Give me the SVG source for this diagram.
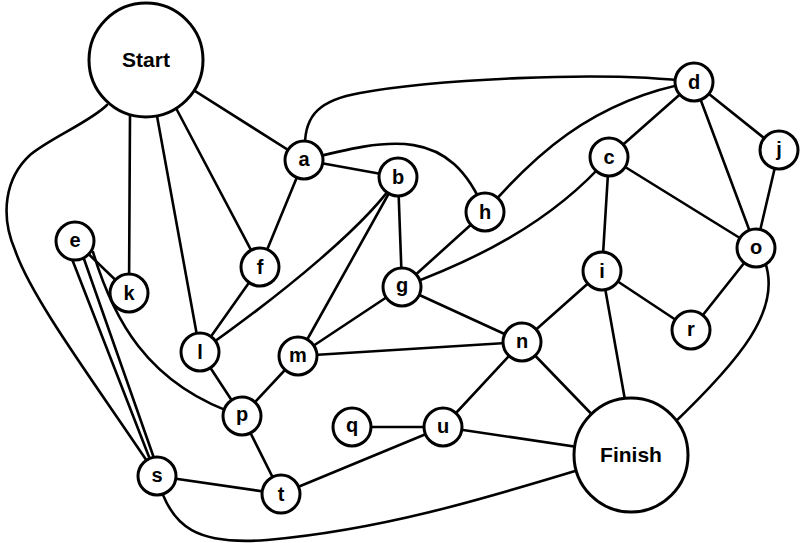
<svg xmlns="http://www.w3.org/2000/svg" width="803" height="543" viewBox="0 0 803 543">
<style>
.e{fill:none;stroke:#000;stroke-width:2.6;stroke-linecap:round}
.n circle{fill:#fff;stroke:#000;stroke-width:3}
.n text{font-family:"Liberation Sans",Arial,sans-serif;font-weight:bold;font-size:20px;text-anchor:middle;fill:#000}
.big text{font-size:21px}
</style>
<rect width="803" height="543" fill="#fff"/>
<g id="connectors">
<line class="e" x1="146" y1="60" x2="304" y2="160"/>
<line class="e" x1="177" y1="110" x2="260" y2="267"/>
<line class="e" x1="157" y1="116" x2="200" y2="352"/>
<line class="e" x1="130" y1="115" x2="129" y2="293"/>
<path class="e" d="M107,105 C90,122 50,138 30,155 C5,178 0,215 15,250 C32,300 100,390 157,476"/>
<line class="e" x1="75" y1="241" x2="129" y2="293"/>
<line class="e" x1="72" y1="259" x2="151" y2="462"/>
<line class="e" x1="84" y1="259" x2="155" y2="461"/>
<path class="e" d="M93,252 C112,315 145,385 242,416"/>
<line class="e" x1="304" y1="160" x2="260" y2="267"/>
<line class="e" x1="304" y1="160" x2="398" y2="177"/>
<path class="e" d="M304,160 C390,138 450,125 485,212"/>
<path class="e" d="M305,145 C305,115 320,100 360,93 C430,80 600,70 694,82"/>
<path class="e" d="M485,212 C530,160 590,100 694,82"/>
<line class="e" x1="485" y1="212" x2="402" y2="287"/>
<path class="e" d="M402,287 C470,262 550,225 609,157"/>
<path class="e" d="M398,177 C370,222 285,292 200,352"/>
<line class="e" x1="398" y1="177" x2="298" y2="356"/>
<line class="e" x1="398" y1="177" x2="402" y2="287"/>
<line class="e" x1="402" y1="287" x2="298" y2="356"/>
<line class="e" x1="402" y1="287" x2="522" y2="342"/>
<line class="e" x1="298" y1="356" x2="522" y2="342"/>
<line class="e" x1="298" y1="356" x2="242" y2="416"/>
<line class="e" x1="200" y1="352" x2="260" y2="267"/>
<line class="e" x1="200" y1="352" x2="242" y2="416"/>
<line class="e" x1="242" y1="416" x2="281" y2="494"/>
<line class="e" x1="157" y1="476" x2="281" y2="494"/>
<line class="e" x1="281" y1="494" x2="443" y2="427"/>
<line class="e" x1="352" y1="427" x2="443" y2="427"/>
<line class="e" x1="443" y1="427" x2="522" y2="342"/>
<line class="e" x1="443" y1="427" x2="631" y2="455"/>
<line class="e" x1="522" y1="342" x2="631" y2="455"/>
<line class="e" x1="522" y1="342" x2="602" y2="271"/>
<line class="e" x1="602" y1="271" x2="625" y2="400"/>
<line class="e" x1="602" y1="271" x2="691" y2="330"/>
<line class="e" x1="602" y1="271" x2="609" y2="157"/>
<line class="e" x1="609" y1="157" x2="694" y2="82"/>
<line class="e" x1="609" y1="157" x2="756" y2="248"/>
<line class="e" x1="694" y1="82" x2="756" y2="248"/>
<line class="e" x1="694" y1="82" x2="779" y2="150"/>
<line class="e" x1="779" y1="150" x2="756" y2="248"/>
<line class="e" x1="756" y1="248" x2="691" y2="330"/>
<path class="e" d="M765,262 C782,310 740,360 672,425"/>
<path class="e" d="M157,476 C170,530 200,545 267,540 C380,530 480,500 585,468"/>
</g>
<g id="node-start" class="n big"><circle cx="146" cy="60" r="57"/><text x="146" y="67">Start</text></g>
<g id="node-finish" class="n big"><circle cx="631" cy="455" r="57"/><text x="631" y="462">Finish</text></g>
<g id="node-a" class="n"><circle cx="304" cy="160" r="19"/><text x="304" y="166">a</text></g>
<g id="node-b" class="n"><circle cx="398" cy="177" r="19"/><text x="398" y="184">b</text></g>
<g id="node-c" class="n"><circle cx="609" cy="157" r="19"/><text x="609" y="164">c</text></g>
<g id="node-d" class="n"><circle cx="694" cy="82" r="19"/><text x="694" y="89">d</text></g>
<g id="node-e" class="n"><circle cx="75" cy="241" r="19"/><text x="75" y="247">e</text></g>
<g id="node-f" class="n"><circle cx="260" cy="267" r="19"/><text x="260" y="274">f</text></g>
<g id="node-g" class="n"><circle cx="402" cy="287" r="19"/><text x="402" y="292">g</text></g>
<g id="node-h" class="n"><circle cx="485" cy="212" r="19"/><text x="485" y="219">h</text></g>
<g id="node-i" class="n"><circle cx="602" cy="271" r="19"/><text x="602" y="278">i</text></g>
<g id="node-j" class="n"><circle cx="779" cy="150" r="19"/><text x="779" y="156">j</text></g>
<g id="node-k" class="n"><circle cx="129" cy="293" r="19"/><text x="129" y="300">k</text></g>
<g id="node-l" class="n"><circle cx="200" cy="352" r="19"/><text x="200" y="359">l</text></g>
<g id="node-m" class="n"><circle cx="298" cy="356" r="19"/><text x="298" y="362">m</text></g>
<g id="node-n" class="n"><circle cx="522" cy="342" r="19"/><text x="522" y="348">n</text></g>
<g id="node-o" class="n"><circle cx="756" cy="248" r="19"/><text x="756" y="254">o</text></g>
<g id="node-p" class="n"><circle cx="242" cy="416" r="19"/><text x="242" y="421">p</text></g>
<g id="node-q" class="n"><circle cx="352" cy="427" r="19"/><text x="352" y="432">q</text></g>
<g id="node-r" class="n"><circle cx="691" cy="330" r="19"/><text x="691" y="336">r</text></g>
<g id="node-s" class="n"><circle cx="157" cy="476" r="19"/><text x="157" y="482">s</text></g>
<g id="node-t" class="n"><circle cx="281" cy="494" r="19"/><text x="281" y="501">t</text></g>
<g id="node-u" class="n"><circle cx="443" cy="427" r="19"/><text x="443" y="433">u</text></g>
</svg>
